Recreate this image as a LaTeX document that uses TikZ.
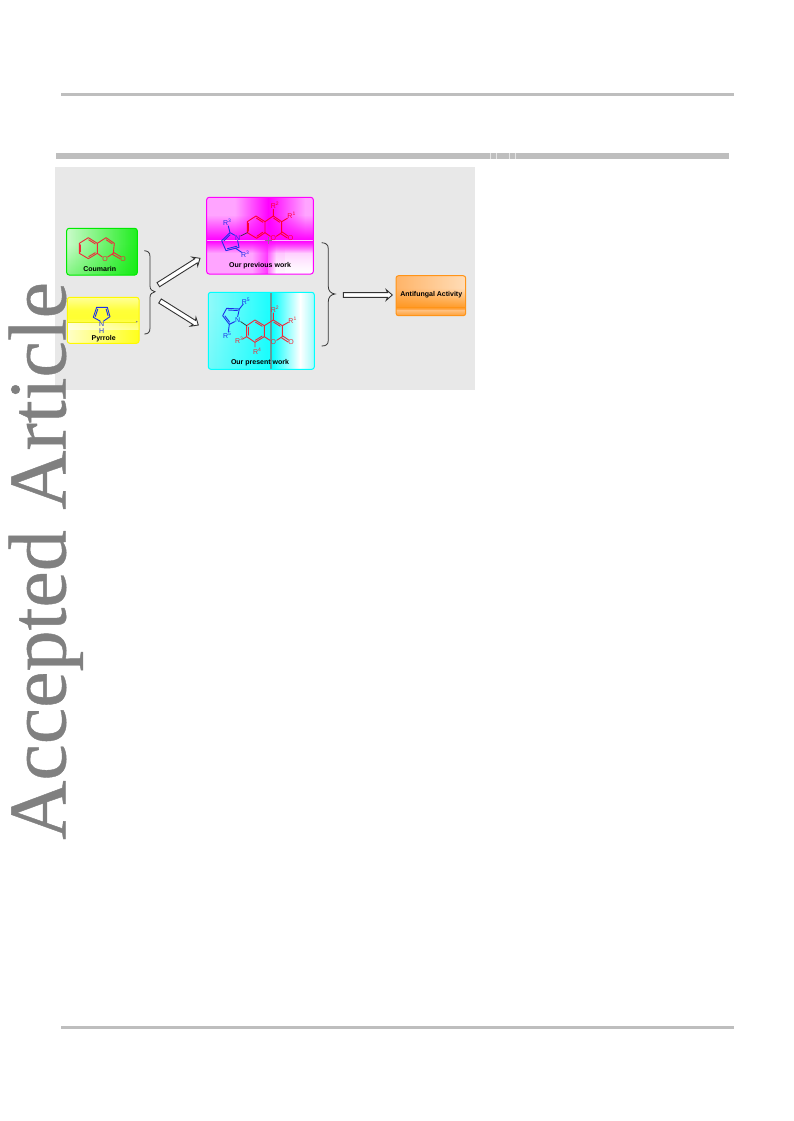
\documentclass[tikz,border=0pt]{standalone}
\usepackage{fontspec}
\setmainfont{Liberation Sans}
\newfontfamily\wmfont[FakeBold=0.5]{Liberation Serif}
\usetikzlibrary{calc,fadings}
\definecolor{rulegray}{HTML}{BEBEBE}
\definecolor{panelgray}{HTML}{E8E8E8}
\definecolor{chemred}{HTML}{F02838}
\definecolor{chemblue}{HTML}{1C30E8}
\definecolor{wmgray}{HTML}{808080}
\definecolor{mg}{RGB}{255,0,255}
\definecolor{mglight}{HTML}{FFA4FF}
\definecolor{cy}{RGB}{0,255,255}
\definecolor{cylight}{HTML}{A0FAFA}
\definecolor{gr}{RGB}{0,235,0}
\definecolor{ye}{RGB}{255,255,0}
\definecolor{orA}{HTML}{FF9418}
\definecolor{orB}{HTML}{FFB468}
\definecolor{orC}{HTML}{FFDDB8}
\tikzset{
  rulebar/.style={fill=rulegray,draw=none},
  boxframe/.style={draw=#1,line width=1pt,rounded corners=2.5pt,fill=none},
  boxlabel/.style={font=\bfseries\fontsize{7}{8}\selectfont,inner sep=0pt,text=black},
  atomred/.style={font=\fontsize{7}{8}\selectfont,inner sep=0pt,text=chemred},
  atomblue/.style={font=\fontsize{7}{8}\selectfont,inner sep=0pt,text=chemblue},
  redbond/.style={draw=chemred,line width=.9pt,line cap=round,line join=round},
  bluebond/.style={draw=chemblue,line width=.9pt,line cap=round,line join=round},
  blackbond/.style={draw=black!80,line width=.7pt,line cap=round},
  hollowarrow/.style={draw=black!80,line width=.9pt,fill=white,line join=miter},
  bracepath/.style={draw=black!80,line width=.8pt},
  zoomA/.style={shift={(55,190)},x=.3333pt,y=-.3333pt},
  zoomB/.style={shift={(200,190)},x=.3333pt,y=-.3333pt},
  zoomC/.style={shift={(200,285)},x=.3333pt,y=-.3333pt},
}
% inner line of a double bond, on the right of the direction of travel
\newcommand{\dbl}[3]{\path[#1] ($(#2)!.14!(#3)!1.6pt!-90:(#3)$) -- ($(#3)!.14!(#2)!1.6pt!90:(#2)$);}
\newcommand{\Rl}[1]{R\textsuperscript{#1}}
% hollow block arrow between two named coordinates
\newcommand{\hollow}[2]{\draw[hollowarrow]
  ($(#1)!2.4pt!90:(#2)$) -- ($(#2)!4.8pt!(#1)!2.4pt!-90:(#1)$) -- ($(#2)!6pt!(#1)!5.2pt!-90:(#1)$) -- (#2)
  -- ($(#2)!6pt!(#1)!5.2pt!90:(#1)$) -- ($(#2)!4.8pt!(#1)!2.4pt!90:(#1)$) -- ($(#1)!2.4pt!-90:(#2)$) -- cycle;}
\begin{document}
\begin{tikzpicture}[x=1pt,y=-1pt]
\useasboundingbox (0,0) rectangle (793,1121);
\fill[white] (0,0) rectangle (793,1121);
% page rules
\path[rulebar] (60.5,93.5) rectangle (734,96.5);
\path[rulebar] (55.5,153.3) rectangle (729,159.3);
\foreach \tx in {490,496.7,509.3,515.7} \fill[white!60!rulegray] (\tx-.5,153.3) rectangle (\tx+.5,159.3);
\path[rulebar] (60.5,1025.5) rectangle (734,1028.5);
% panel
\fill[panelgray] (55,167.3) rectangle (475,390);
% watermark
\node[rotate=90,anchor=base west,inner sep=0pt,text=wmgray,font=\wmfont\fontsize{82}{90}\selectfont] (wm) at (65.5,840) {Accepted Article};

% ---------- green box
\begin{scope}
\clip[rounded corners=2.5pt] (66.7,228.3) rectangle (137.3,275);
\fill[gr] (66,228) rectangle (138,276);
\fill[white,path fading=east,opacity=.95] (50,228) rectangle (150,276);
\fill[gr,path fading=north,opacity=.5] (66,245) rectangle (138,290);
\end{scope}
\node[boxframe=gr,minimum width=70.6pt,minimum height=46.7pt,inner sep=0pt] (coumbox) at (102,251.65) {};
\node[boxlabel] (coumlabel) at (99.7,268.5) {Coumarin};
\begin{scope}[zoomA]
\draw[redbond] (100,143)--(127,160)--(127,190)--(100,206)--(73,190)--(73,160)--cycle;
\draw[redbond] (127,160)--(153,143)--(178,160)--(175,190)--(158,201);
\draw[redbond] (142,201)--(127,190);
\dbl{redbond}{73,190}{73,160}
\dbl{redbond}{100,143}{127,160}
\dbl{redbond}{127,190}{100,206}
\dbl{redbond}{153,143}{178,160}
\draw[redbond] (175,187)--(197,200) (172,193)--(195,206);
\node[atomred] (coumO) at (150,207) {O};
\node[atomred] (coumOo) at (204,207) {O};
\end{scope}

% ---------- yellow box
\begin{scope}
\clip[rounded corners=2.5pt] (67.3,297.3) rectangle (139,343.3);
\fill[ye] (67,297) rectangle (140,344);
\fill[white,path fading=south,opacity=.8] (67,290) rectangle (140,318);
\fill[white,path fading=north,opacity=.5] (67,310) rectangle (140,330);
\fill[white,path fading=east,opacity=.95] (50,322) rectangle (150,344);
\end{scope}
\draw[ye!85!gray,line width=.4pt] (67.3,321.7) -- (136,321.7);
\fill[gray] (136.7,321.7) circle (.9pt);
\node[boxframe=ye!95!orange,minimum width=71.7pt,minimum height=46pt,inner sep=0pt] (pyrbox) at (103.15,320.3) {};
\node[boxlabel] (pyrlabel) at (103.7,338.5) {Pyrrole};
\begin{scope}[zoomA]
\draw[bluebond] (135,393)--(115,382)--(125,352)--(157,352)--(165,380)--(146,393);
\dbl{bluebond}{115,382}{125,352}
\dbl{bluebond}{157,352}{165,380}
\node[atomblue] (pyrN) at (140,402) {N};
\node[atomblue] (pyrH) at (140,422) {H};
\end{scope}

% ---------- magenta box
\begin{scope}
\clip[rounded corners=2.5pt] (206.7,197.3) rectangle (313.3,274);
\fill[mglight] (206,197) rectangle (314,275);
\shade[left color=mglight,right color=white,shading=axis,shading angle=0] (268.3,240) rectangle (314,275);
\fill[white,path fading=north,opacity=.9] (285,245) rectangle (314,285);
\fill[mg,path fading=west] (235,197) rectangle (268.3,240);
\fill[mg,path fading=east] (268.3,197) rectangle (305,240);
\fill[mg,path fading=north] (206,215) rectangle (314,240);
\fill[mg,path fading=south] (206,240.6) rectangle (314,253);
\fill[mg,path fading=west,opacity=.7] (252,240) rectangle (268.3,275);
\fill[mg,path fading=east,opacity=.5] (268.3,240) rectangle (276,275);
\fill[white,opacity=.25] (206,240) rectangle (314,240.7);
\end{scope}
\draw[gray!80!mg,line width=.9pt] (264.5,240.3)--(272,240.3) (268.3,236.5)--(268.3,244);
\node[boxframe=mg,minimum width=106.6pt,minimum height=76.7pt,inner sep=0pt] (magbox) at (260,235.65) {};
\node[boxlabel] (maglabel) at (260,265.5) {Our previous work};
\begin{scope}[zoomB]
\definecolor{chemred}{HTML}{FF0030}
\draw[redbond] (168,78)--(195,95)--(195,128)--(170,145)--(142,128)--(142,95)--cycle;
\draw[redbond] (195,95)--(220,78)--(245,95)--(245,128)--(229,139);
\draw[redbond] (211,139)--(195,128);
\dbl{redbond}{142,128}{142,95}
\dbl{redbond}{168,78}{195,95}
\dbl{redbond}{195,128}{170,145}
\dbl{redbond}{220,78}{245,95}
\draw[redbond] (245,125)--(264,138) (242,131)--(262,144);
\draw[redbond] (220,78)--(220,58) (245,95)--(262,85);
\node[atomred] (magO) at (220,145) {O};
\node[atomred] (magOo) at (272,143) {O};
\node[atomred] (magR2) at (225,47) {\Rl{2}};
\node[atomred] (magR1) at (275,77) {\Rl{1}};
\draw[blackbond] (122,138)--(142,128);
\draw[bluebond] (105,136)--(90,128)--(65,152)--(78,182)--(117,172)--(113,152);
\dbl{bluebond}{65,152}{90,128}
\dbl{bluebond}{117,172}{78,182}
\draw[bluebond] (90,128)--(85,108) (107,175)--(125,187);
\node[atomblue] (magN) at (113,143) {N};
\node[atomblue] (magR3a) at (82,97) {\Rl{3}};
\node[atomblue] (magR3b) at (136,192) {\Rl{3}};
\end{scope}

% ---------- cyan box
\begin{scope}
\clip[rounded corners=2.5pt] (208.3,292.3) rectangle (314.3,369.3);
\fill[cylight] (208,292) rectangle (271,370);
\fill[cy,path fading=west] (200,292) rectangle (285,370);
\fill[cy,path fading=north,opacity=.25] (208,310) rectangle (271,385);
\shade[left color=cy,right color=white] (271,292) rectangle (300,370);
\shade[left color=white,right color=cylight] (300,292) rectangle (315,370);
\end{scope}
\fill[gray!75!cy] (270.3,292.8) rectangle (272,368.8);
\node[boxframe=cy,minimum width=106pt,minimum height=77pt,inner sep=0pt] (cyanbox) at (261.3,330.8) {};
\node[boxlabel] (cyanlabel) at (260,362.3) {Our present work};
\begin{scope}[zoomC]
\draw[redbond] (165,105)--(193,122)--(193,155)--(165,172)--(140,155)--(140,122)--cycle;
\draw[redbond] (193,122)--(220,105)--(247,122)--(247,155)--(230,166);
\draw[redbond] (210,166)--(193,155);
\dbl{redbond}{140,155}{140,122}
\dbl{redbond}{165,105}{193,122}
\dbl{redbond}{193,155}{165,172}
\dbl{redbond}{220,105}{247,122}
\draw[redbond] (247,152)--(266,165) (244,158)--(264,171);
\draw[redbond] (220,105)--(220,84) (247,122)--(265,112) (140,155)--(128,162) (165,172)--(165,186);
\node[atomred] (cyanO) at (220,172) {O};
\node[atomred] (cyanOo) at (273,170) {O};
\node[atomred] (cyanR2) at (225,72) {\Rl{2}};
\node[atomred] (cyanR1) at (278,105) {\Rl{1}};
\node[atomred] (cyanR3) at (118,167) {\Rl{3}};
\node[atomred] (cyanR4) at (172,198) {\Rl{4}};
\draw[blackbond] (122,110)--(140,122);
\draw[bluebond] (113,95)--(118,72)--(80,70)--(68,92)--(88,118)--(104,110);
\dbl{bluebond}{80,70}{118,72}
\dbl{bluebond}{88,118}{68,92}
\draw[bluebond] (118,72)--(130,57) (88,118)--(85,140);
\node[atomblue] (cyanN) at (113,105) {N};
\node[atomblue] (cyanR5a) at (138,50) {\Rl{5}};
\node[atomblue] (cyanR5b) at (82,150) {\Rl{5}};
\end{scope}

% ---------- orange box
\begin{scope}
\clip[rounded corners=2.5pt] (396,275.7) rectangle (465.7,315.7);
\shade[left color=orB,right color=orC] (396,275) rectangle (466,307);
\fill[orA,path fading=north] (396,288) rectangle (466,310);
\shade[top color=orA,bottom color=orB] (396,307) rectangle (466,310);
\shade[top color=orB!70!orC,bottom color=orA!70!orB] (396,310) rectangle (466,316);
\end{scope}
\node[boxframe=orA,minimum width=69.7pt,minimum height=40pt,inner sep=0pt] (orbox) at (430.85,295.7) {};
\node[boxlabel] (orlabel) at (431.3,294.7) {Antifungal Activity};

% ---------- braces
\coordinate (braceLtop) at (144.3,250.7);
\coordinate (braceLtip) at (155,291.7);
\coordinate (braceLbot) at (144.3,334);
\draw[bracepath] (braceLtop) .. controls (148,251) and (150,252.5) .. (150,256.7) -- (150,286) .. controls (150,289.5) and (152,291) .. (braceLtip) .. controls (152,292.5) and (150,294) .. (150,297.5) -- (150,328) .. controls (150,332.5) and (148,334) .. (braceLbot);
\coordinate (braceRtop) at (321.7,242.7);
\coordinate (braceRtip) at (335,294);
\coordinate (braceRbot) at (321.7,346);
\draw[bracepath] (braceRtop) .. controls (326,243) and (328.3,244.5) .. (328.3,249) -- (328.3,286.5) .. controls (328.3,291) and (331,293.5) .. (braceRtip) .. controls (331,294.5) and (328.3,297) .. (328.3,301.5) -- (328.3,340) .. controls (328.3,344.5) and (326,346) .. (braceRbot);

% ---------- arrows
\coordinate (arrAs) at (158.3,284.7);
\coordinate (arrAe) at (200,258.3);
\coordinate (arrBs) at (160,301);
\coordinate (arrBe) at (198.3,325);
\coordinate (arrCs) at (343.3,295);
\coordinate (arrCe) at (392.3,295);
\hollow{arrAs}{arrAe}
\hollow{arrBs}{arrBe}
\hollow{arrCs}{arrCe}
\end{tikzpicture}
\end{document}
